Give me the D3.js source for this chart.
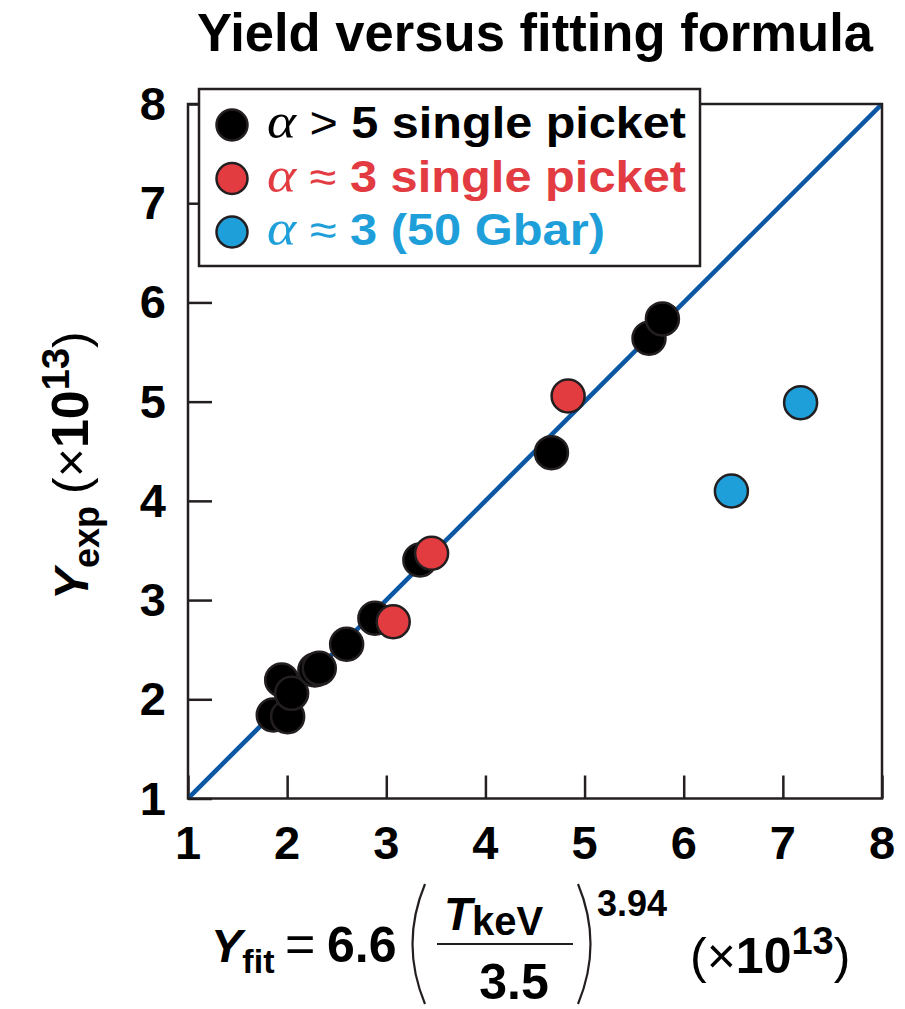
<!DOCTYPE html>
<html>
<head>
<meta charset="utf-8">
<script src="https://cdn.jsdelivr.net/npm/d3@7"></script>
<style>
  body { margin: 0; background: #fff; }
  text { font-family: "Liberation Sans", Arial, Helvetica, sans-serif; }
</style>
</head>
<body>
<svg id="viz"></svg>
<script>
var width = 905;
var height = 1009;

// data (units of 1e13)
var blackX = [1.86, 1.945, 2.005, 2.045, 2.28, 2.324, 2.60, 2.885, 3.339, 4.666, 5.65, 5.785];
var blackY = [1.842, 2.195, 1.825, 2.06, 2.295, 2.312, 2.554, 2.817, 3.404, 4.486, 5.639, 5.834];
var redX = [3.07, 3.457, 4.834];
var redY = [2.782, 3.472, 5.057];
var blueX = [6.481, 7.179];
var blueY = [4.10, 4.99];
var tickValues = [1, 2, 3, 4, 5, 6, 7, 8];
var fitLine = [[1, 1], [8, 8]];

var legendLabels = [
    { sym: "\u003e", num: "5 single picket", color: "#000000" },
    { sym: "\u2248", num: "3 single picket", color: "#e23b41" },
    { sym: "\u2248", num: "3 (50 Gbar)", color: "#1e9fda" }
];
var series = [
    { xs: blackX, ys: blackY, fill: "#000000" },
    { xs: redX, ys: redY, fill: "#e23c40" },
    { xs: blueX, ys: blueY, fill: "#1e9fd9" }
];

var margin = { left: 188, top: 104, right: 905 - 882, bottom: 1009 - 798.5 };

var svg = d3.select("#viz")
    .attr("width", width)
    .attr("height", height);

var x = d3.scaleLinear().domain([1, 8]).range([margin.left, width - margin.right]);
var y = d3.scaleLinear().domain([1, 8]).range([height - margin.bottom, margin.top]);

var ink = "#231f20";

// title
svg.append("text")
    .attr("x", 197).attr("y", 51)
    .attr("font-size", 54).attr("font-weight", "bold")
    .attr("textLength", 676).attr("lengthAdjust", "spacingAndGlyphs")
    .text("Yield versus fitting formula");

svg.append("clipPath").attr("id", "plotclip")
    .append("rect")
    .attr("x", x(1)).attr("y", y(8))
    .attr("width", x(8) - x(1)).attr("height", y(1) - y(8));

// ticks (inward, bottom and left)
svg.append("g")
    .attr("transform", "translate(0," + y(1) + ")")
    .call(d3.axisBottom(x).tickValues(tickValues).tickSize(-23).tickFormat(""))
    .call(function (g) {
        g.select(".domain").remove();
        g.selectAll("line").attr("stroke", ink).attr("stroke-width", 2.5);
    });
svg.append("g")
    .attr("transform", "translate(" + x(1) + ",0)")
    .call(d3.axisLeft(y).tickValues(tickValues).tickSize(-24).tickFormat(""))
    .call(function (g) {
        g.select(".domain").remove();
        g.selectAll("line").attr("stroke", ink).attr("stroke-width", 2.5);
    });

// tick labels
svg.append("g").selectAll("text")
    .data(tickValues).enter().append("text")
    .attr("x", function (d) { return x(d); })
    .attr("y", 859)
    .attr("text-anchor", "middle")
    .attr("font-size", 47).attr("font-weight", "bold")
    .text(function (d) { return d; });
svg.append("g").selectAll("text")
    .data(tickValues).enter().append("text")
    .attr("x", 166)
    .attr("y", function (d) { return y(d) + 16; })
    .attr("text-anchor", "end")
    .attr("font-size", 47).attr("font-weight", "bold")
    .text(function (d) { return d; });

// fit line
svg.append("path")
    .datum(fitLine)
    .attr("clip-path", "url(#plotclip)")
    .attr("d", d3.line().x(function (d) { return x(d[0]); }).y(function (d) { return y(d[1]); }))
    .attr("stroke", "#0b57a4").attr("stroke-width", 4.5).attr("fill", "none");

// points
series.forEach(function (s) {
    svg.append("g").selectAll("circle")
        .data(s.xs).enter().append("circle")
        .attr("cx", function (d) { return x(d); })
        .attr("cy", function (d, i) { return y(s.ys[i]); })
        .attr("r", 16.5)
        .attr("fill", s.fill)
        .attr("stroke", ink).attr("stroke-width", 2.5);
});

// frame
svg.append("rect")
    .attr("x", x(1)).attr("y", y(8))
    .attr("width", x(8) - x(1)).attr("height", y(1) - y(8))
    .attr("fill", "none").attr("stroke", ink).attr("stroke-width", 2.5);

// legend
var legend = svg.append("g");
legend.append("rect")
    .attr("x", 199).attr("y", 89)
    .attr("width", 501).attr("height", 177)
    .attr("fill", "#fff").attr("stroke", ink).attr("stroke-width", 2.5);

var legendWidths = [419, 419, 338];
legendLabels.forEach(function (d, i) {
    var cy = 125 + i * 53.5;
    legend.append("circle")
        .attr("cx", 232).attr("cy", cy).attr("r", 15.5)
        .attr("fill", series[i].fill)
        .attr("stroke", ink).attr("stroke-width", 2.5);
    var t = legend.append("text")
        .attr("x", 267).attr("y", cy + 13)
        .attr("font-size", 44).attr("font-weight", "bold")
        .attr("fill", d.color)
        .attr("textLength", legendWidths[i]).attr("lengthAdjust", "spacingAndGlyphs");
    t.append("tspan")
        .attr("font-family", "'Liberation Serif', 'DejaVu Serif', serif")
        .attr("font-style", "italic").attr("font-weight", "normal")
        .attr("font-size", 50)
        .text("\u03b1");
    t.append("tspan").attr("font-weight", "normal").text(" " + d.sym + " ");
    t.append("tspan").text(d.num);
});

// y axis title
var yt = svg.append("text")
    .attr("transform", "translate(88,600) rotate(-90)")
    .attr("font-weight", "bold");
yt.append("tspan").attr("font-size", 48).attr("font-style", "italic").text("Y");
yt.append("tspan").attr("font-size", 36).attr("dy", 11).text("exp");
yt.append("tspan").attr("font-size", 50).attr("dy", -11).attr("dx", 12).attr("font-weight", "normal").text("(\u00d7");
yt.append("tspan").attr("font-size", 52).text("10");
yt.append("tspan").attr("font-size", 38).attr("dy", -19).text("13");
yt.append("tspan").attr("font-size", 50).attr("dy", 19).attr("font-weight", "normal").text(")");

// x axis title (formula)
var xl = svg.append("g").attr("font-weight", "bold");
var yf = xl.append("text").attr("x", 211).attr("y", 962);
yf.append("tspan").attr("font-size", 47).attr("font-style", "italic").text("Y");
yf.append("tspan").attr("font-size", 34).attr("dy", 11).text("fit");
xl.append("text").attr("x", 285).attr("y", 962).attr("font-size", 52).attr("font-weight", "normal").text("=");
xl.append("text").attr("x", 327).attr("y", 962).attr("font-size", 50).text("6.6");

var tk = xl.append("text").attr("x", 444).attr("y", 930);
tk.append("tspan").attr("font-size", 46).attr("font-style", "italic").text("T");
tk.append("tspan").attr("font-size", 40).attr("dy", 5).text("keV");
xl.append("line")
    .attr("x1", 437).attr("x2", 573).attr("y1", 944).attr("y2", 944)
    .attr("stroke", ink).attr("stroke-width", 2);
xl.append("text").attr("x", 514).attr("y", 999).attr("text-anchor", "middle").attr("font-size", 50).text("3.5");

// large brackets around the fraction
xl.append("path")
    .attr("d", "M425,884 Q400,944 425,1004")
    .attr("fill", "none").attr("stroke", ink).attr("stroke-width", 2.2);
xl.append("path")
    .attr("d", "M578,884 Q603,944 578,1004")
    .attr("fill", "none").attr("stroke", ink).attr("stroke-width", 2.2);
xl.append("text").attr("x", 597).attr("y", 916).attr("font-size", 36).text("3.94");

var pw = xl.append("text").attr("x", 690).attr("y", 973);
pw.append("tspan").attr("font-size", 50).attr("font-weight", "normal").text("(\u00d7");
pw.append("tspan").attr("font-size", 50).text("10");
pw.append("tspan").attr("font-size", 38).attr("dy", -19).text("13");
pw.append("tspan").attr("font-size", 50).attr("dy", 19).attr("font-weight", "normal").text(")");
</script>
</body>
</html>
